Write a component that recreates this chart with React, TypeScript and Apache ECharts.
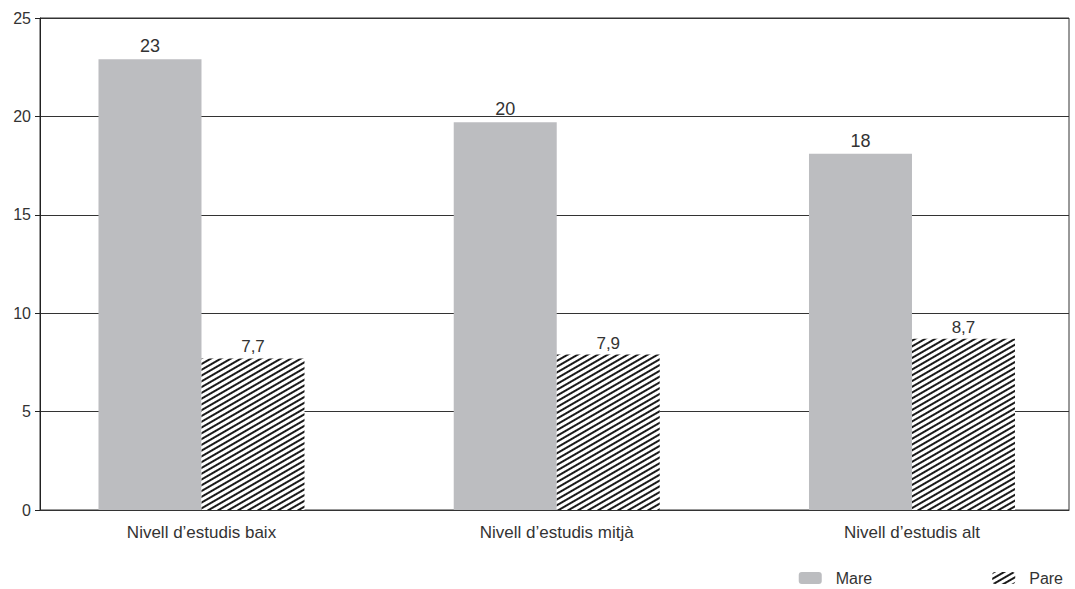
import React, { useEffect, useRef } from "react";
import * as echarts from "echarts";

const categories = ["Nivell d’estudis baix", "Nivell d’estudis mitjà", "Nivell d’estudis alt"];
const mareValues = [22.9, 19.7, 18.1];
const pareValues = [7.7, 7.9, 8.7];
const mareLabels = ["23", "20", "18"];
const pareLabels = ["7,7", "7,9", "8,7"];
const yTicks = { min: 0, max: 25, interval: 5 };

const FONT = "'Liberation Sans', Arial, Helvetica, sans-serif";

// x range (category positions 0,1,2) chosen so bars sit where they do in the original
const X_MIN = -0.4546;
const X_MAX = 2.442;

export default function App() {
  const ref = useRef<HTMLDivElement>(null);
  useEffect(() => {
    if (!ref.current) return;
    const chart = echarts.init(ref.current, null, { renderer: "svg" });
    const hatch = {
      symbol: "rect",
      symbolSize: 1,
      dashArrayX: [[1, 0]],
      dashArrayY: [1.2, 2.6],
      rotation: -Math.PI / 6,
      color: "#1a1a1a",
      backgroundColor: "#ffffff",
    };
    const catIdx = categories.map((_, i) => i);
    const mareData = mareValues.map((v, i) => [catIdx[i], v]);
    const pareData = pareValues.map((v, i) => [catIdx[i], v]);
    chart.setOption({
      animation: false,
      backgroundColor: "#ffffff",
      textStyle: { fontFamily: FONT },
      grid: {
        left: 40,
        right: 6,
        top: 18,
        bottom: 79,
        show: true,
        borderColor: "#333",
        borderWidth: 1,
        backgroundColor: "transparent",
      },
      xAxis: {
        type: "value",
        min: X_MIN,
        max: X_MAX,
        axisLine: { show: true, onZero: false, lineStyle: { color: "#333" } },
        axisTick: { show: false },
        splitLine: { show: false },
        axisLabel: {
          color: "#333",
          fontSize: 17,
          margin: 14,
          fontFamily: FONT,
          customValues: catIdx,
          formatter: (v: number) => {
            const i = Math.round(v);
            return categories[i] ?? "";
          },
        },
      },
      yAxis: {
        type: "value",
        min: yTicks.min,
        max: yTicks.max,
        interval: yTicks.interval,
        axisLine: { show: true, onZero: false, lineStyle: { color: "#222", width: 1 } },
        axisTick: { show: true, length: 5, lineStyle: { color: "#222" } },
        axisLabel: { color: "#333", fontSize: 16, margin: 9, fontFamily: FONT },
        splitLine: { show: true, lineStyle: { color: "#333", width: 1 } },
      },
      legend: {
        top: 565,
        right: 7,
        itemWidth: 23,
        itemHeight: 12,
        itemGap: 120,
        textStyle: { color: "#333", fontSize: 16, fontFamily: FONT, padding: [0, 0, 0, 9] },
        data: ["Mare", "Pare"],
      },
      series: [
        {
          name: "Mare",
          type: "bar",
          data: mareData,
          barWidth: 103,
          barGap: "0%",
          itemStyle: { color: "#bcbdc0" },
          label: {
            show: true,
            position: "top",
            distance: 4,
            color: "#333",
            fontSize: 18,
            fontFamily: FONT,
            formatter: (p: any) => mareLabels[p.dataIndex],
          },
        },
        {
          name: "Pare",
          type: "bar",
          data: pareData,
          barWidth: 103,
          barGap: "0%",
          itemStyle: { color: "#ffffff", decal: hatch },
          label: {
            show: true,
            position: "top",
            distance: 3,
            color: "#333",
            fontSize: 17,
            fontFamily: FONT,
            formatter: (p: any) => pareLabels[p.dataIndex],
          },
        },
      ],
    });
    return () => chart.dispose();
  }, []);
  return <div ref={ref} style={{ width: 1075, height: 589, position: "absolute", left: 0, top: 0 }} />;
}
